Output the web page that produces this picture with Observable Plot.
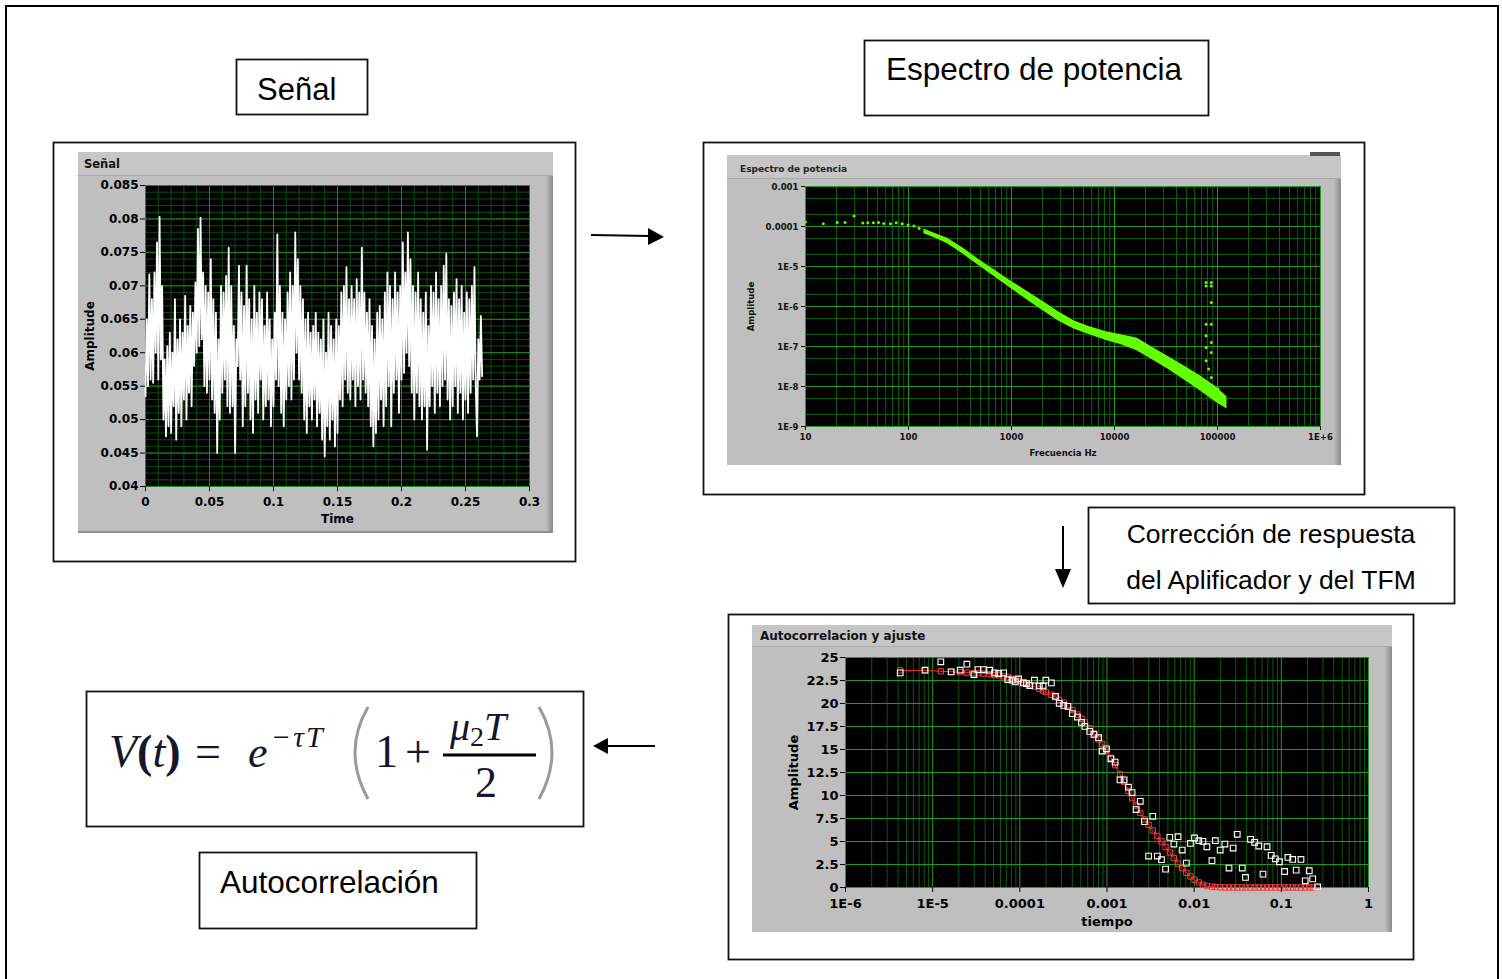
<!DOCTYPE html>
<html><head><meta charset="utf-8">
<script src="https://cdn.jsdelivr.net/npm/d3@7"></script>
<script src="https://cdn.jsdelivr.net/npm/@observablehq/plot@0.6"></script>
<style>
html,body{margin:0;padding:0;background:#fff;}
body{width:1502px;height:979px;position:relative;overflow:hidden;font-family:"Liberation Sans",Arial,sans-serif;}
#bg{position:absolute;left:0;top:0;}
.chart{position:absolute;}
.chart svg{display:block;overflow:visible;}
</style>
</head><body>
<svg id="bg" width="1502" height="979" xmlns="http://www.w3.org/2000/svg">
  <path d="M6,979 V6 H1498 V979" fill="none" stroke="#000" stroke-width="2"/>
  <!-- label boxes -->
  <rect x="236.5" y="59.5" width="131" height="55" fill="#fff" stroke="#111" stroke-width="1.8"/>
  <text x="257" y="100" font-size="31" font-family="Liberation Sans, Arial">Señal</text>
  <rect x="864.5" y="40.5" width="344" height="75" fill="#fff" stroke="#111" stroke-width="1.8"/>
  <text x="886" y="80" font-size="31.5" font-family="Liberation Sans, Arial">Espectro de potencia</text>
  <rect x="1088.5" y="507.5" width="366" height="96" fill="#fff" stroke="#111" stroke-width="1.8"/>
  <text x="1271" y="543" font-size="26.5" text-anchor="middle" font-family="Liberation Sans, Arial">Corrección de respuesta</text>
  <text x="1271" y="589" font-size="26.5" text-anchor="middle" font-family="Liberation Sans, Arial">del Aplificador y del TFM</text>
  <rect x="199.5" y="852.5" width="277" height="76" fill="#fff" stroke="#111" stroke-width="1.8"/>
  <text x="220" y="893" font-size="31.5" font-family="Liberation Sans, Arial">Autocorrelación</text>
  <!-- formula -->
  <rect x="86.5" y="691.5" width="497" height="135" fill="#fff" stroke="#111" stroke-width="1.8"/>
  <g font-family="Liberation Serif, Times New Roman, serif" fill="#15152e">
    <text x="109" y="767" font-size="46"><tspan font-style="italic">V</tspan><tspan font-weight="bold">(</tspan><tspan font-style="italic">t</tspan><tspan font-weight="bold">)</tspan></text>
    <text x="195" y="767" font-size="46">=</text>
    <text x="248" y="767" font-size="44" font-style="italic">e</text>
    <text x="271" y="747" font-size="30" font-style="italic" letter-spacing="2">−τT</text>
    <text x="375" y="767" font-size="46">1</text>
    <text x="405" y="767" font-size="46">+</text>
    <text x="450" y="740" font-size="40" font-style="italic">μ<tspan font-size="28" font-style="normal" dy="6">2</tspan><tspan dy="-6">T</tspan></text>
    <text x="475" y="797" font-size="44">2</text>
  </g>
  <line x1="443" y1="755" x2="536" y2="755" stroke="#000" stroke-width="3"/>
  <path d="M368,707 Q342,752 368,799" fill="none" stroke="#9a9a9a" stroke-width="3"/>
  <path d="M539,707 Q565,752 539,799" fill="none" stroke="#9a9a9a" stroke-width="3"/>
  <!-- arrows -->
  <line x1="591" y1="235" x2="650" y2="236" stroke="#000" stroke-width="2"/>
  <polygon points="648,228 664,237 648,245" fill="#000"/>
  <line x1="1063" y1="526" x2="1063" y2="572" stroke="#000" stroke-width="2"/>
  <polygon points="1055,569 1071,569 1063,588" fill="#000"/>
  <line x1="655" y1="746" x2="605" y2="746" stroke="#000" stroke-width="2"/>
  <polygon points="608,738 593,746 608,754" fill="#000"/>
  <!-- chart outer boxes -->
  <rect x="53.5" y="142.5" width="522" height="419" fill="#fff" stroke="#111" stroke-width="1.8"/>
  <rect x="703.5" y="142.5" width="661" height="352" fill="#fff" stroke="#111" stroke-width="1.8"/>
  <rect x="728.5" y="614.5" width="685" height="345" fill="#fff" stroke="#111" stroke-width="1.8"/>
  <defs>
    <linearGradient id="bev" x1="0" x2="1" y1="0" y2="0">
      <stop offset="0" stop-color="#bdbdbd"/><stop offset="1" stop-color="#8a8a8a"/>
    </linearGradient>
  </defs>
  <!-- Señal panel -->
  <rect x="78" y="152" width="475" height="381" fill="#bfbfbf"/>
  <rect x="78" y="152" width="475" height="23" fill="#c6c6c6"/>
  <line x1="78" y1="175.5" x2="553" y2="175.5" stroke="#a9a9a9"/>
  <rect x="546" y="176" width="7" height="357" fill="url(#bev)"/>
  <line x1="78" y1="532" x2="553" y2="532" stroke="#8f8f8f" stroke-width="2"/>
  <text x="84" y="168" font-size="11.5" font-weight="bold" font-family="DejaVu Sans, sans-serif" fill="#111">Señal</text>
  <!-- Espectro panel -->
  <rect x="727" y="155" width="614" height="310" fill="#bfbfbf"/>
  <rect x="727" y="155" width="614" height="23" fill="#c6c6c6"/>
  <line x1="727" y1="178.5" x2="1341" y2="178.5" stroke="#a9a9a9"/>
  <rect x="1334" y="179" width="7" height="286" fill="url(#bev)"/>
  <rect x="1310" y="152" width="30" height="4" fill="#555"/>
  <text x="740" y="172" font-size="9" font-weight="bold" font-family="DejaVu Sans, sans-serif" fill="#222">Espectro de potencia</text>
  <!-- Autocorr panel -->
  <rect x="752" y="625" width="640" height="307" fill="#bfbfbf"/>
  <rect x="752" y="625" width="640" height="21" fill="#c6c6c6"/>
  <line x1="752" y1="646.5" x2="1392" y2="646.5" stroke="#a9a9a9"/>
  <rect x="1385" y="647" width="7" height="285" fill="url(#bev)"/>
  <text x="760" y="640" font-size="12" font-weight="bold" font-family="DejaVu Sans, sans-serif" fill="#111">Autocorrelacion y ajuste</text>
</svg>
<div id="senal" class="chart" style="left:78px;top:175px;"></div>
<div id="espectro" class="chart" style="left:727px;top:178px;"></div>
<div id="autocorr" class="chart" style="left:752px;top:646px;"></div>
<script>
// ---------- Señal (signal) ----------
const signalDt = 0.001;
const signalAmp = [
0.0535,0.0650,0.0550,0.0717,0.0560,0.0680,0.0555,0.0720,0.0600,0.0765,
0.0560,0.0803,0.0590,0.0700,0.0500,0.0590,0.0475,0.0610,0.0490,0.0630,
0.0480,0.0600,0.0520,0.0680,0.0470,0.0620,0.0510,0.0650,0.0490,0.0630,
0.0530,0.0685,0.0500,0.0640,0.0540,0.0670,0.0520,0.0660,0.0580,0.0705,
0.0600,0.0785,0.0610,0.0802,0.0620,0.0720,0.0550,0.0700,0.0540,0.0690,
0.0560,0.0740,0.0530,0.0680,0.0510,0.0660,0.0450,0.0620,0.0500,0.0700,
0.0540,0.0690,0.0560,0.0715,0.0520,0.0757,0.0510,0.0700,0.0520,0.0640,
0.0450,0.0620,0.0580,0.0730,0.0560,0.0690,0.0490,0.0670,0.0520,0.0730,
0.0540,0.0680,0.0500,0.0650,0.0480,0.0700,0.0530,0.0660,0.0510,0.0690,
0.0560,0.0680,0.0500,0.0640,0.0520,0.0690,0.0530,0.0650,0.0490,0.0620,
0.0520,0.0660,0.0560,0.0777,0.0550,0.0700,0.0510,0.0660,0.0490,0.0650,
0.0530,0.0690,0.0550,0.0720,0.0530,0.0700,0.0560,0.0780,0.0600,0.0740,
0.0560,0.0700,0.0540,0.0680,0.0500,0.0650,0.0480,0.0660,0.0520,0.0630,
0.0500,0.0640,0.0530,0.0660,0.0490,0.0630,0.0510,0.0620,0.0470,0.0650,
0.0445,0.0600,0.0490,0.0660,0.0470,0.0640,0.0500,0.0620,0.0460,0.0650,
0.0480,0.0640,0.0530,0.0690,0.0520,0.0700,0.0560,0.0728,0.0540,0.0680,
0.0530,0.0700,0.0560,0.0680,0.0520,0.0710,0.0550,0.0690,0.0530,0.0757,
0.0560,0.0690,0.0540,0.0660,0.0520,0.0680,0.0490,0.0640,0.0460,0.0620,
0.0480,0.0660,0.0500,0.0670,0.0530,0.0650,0.0490,0.0690,0.0520,0.0720,
0.0550,0.0700,0.0490,0.0680,0.0540,0.0720,0.0560,0.0690,0.0510,0.0700,
0.0560,0.0765,0.0570,0.0720,0.0600,0.0780,0.0580,0.0740,0.0540,0.0700,
0.0500,0.0690,0.0540,0.0720,0.0520,0.0680,0.0500,0.0660,0.0520,0.0690,
0.0455,0.0640,0.0520,0.0700,0.0550,0.0690,0.0510,0.0720,0.0540,0.0680,
0.0520,0.0700,0.0550,0.0730,0.0560,0.0748,0.0530,0.0680,0.0500,0.0670,
0.0520,0.0690,0.0550,0.0710,0.0510,0.0680,0.0540,0.0700,0.0500,0.0660,
0.0530,0.0690,0.0510,0.0680,0.0540,0.0700,0.0560,0.0728,0.0550,0.0475,
0.0620,0.0560,0.0655,0.0565
];
const senalTicksX = [0, 0.05, 0.1, 0.15, 0.2, 0.25, 0.3];
const senalTicksY = [0.04, 0.045, 0.05, 0.055, 0.06, 0.065, 0.07, 0.075, 0.08, 0.085];

// ---------- Espectro de potencia ----------
const espDotF = [10, 14.9, 20.3, 24.2, 29.6, 36, 40.3, 45.6, 51.2, 57.4, 66.7, 76, 86.8, 99, 113, 127];
const espDotA = [1.29e-4, 1.17e-4, 1.26e-4, 1.26e-4, 1.82e-4, 1.22e-4, 1.24e-4, 1.24e-4, 1.26e-4, 1.19e-4, 1.17e-4, 1.24e-4, 1.17e-4, 1.09e-4, 1.03e-4, 8.97e-5];
const espBandF  = [141, 184, 239, 341, 485, 690, 982, 1400, 1990, 2830, 4030, 5740, 8170, 11600, 16500, 23500, 33500, 47600, 67800, 96600, 123600];
const espBandHi = [8.63e-5, 6.6e-5, 5.05e-5, 2.84e-5, 1.48e-5, 8.04e-6, 4.36e-6, 2.45e-6, 1.38e-6, 7.48e-7, 4.38e-7, 3.1e-7, 2.38e-7, 1.96e-7, 1.62e-7, 9.48e-8, 5.55e-8, 3.24e-8, 1.86e-8, 9.9e-9, 5.57e-9];
const espBandLo = [6.6e-5, 5.05e-5, 3.72e-5, 2.01e-5, 1.05e-5, 5.48e-6, 2.86e-6, 1.49e-6, 8.09e-7, 4.38e-7, 2.72e-7, 1.96e-7, 1.44e-7, 1.1e-7, 7.83e-8, 4.58e-8, 2.68e-8, 1.45e-8, 7.87e-9, 4.03e-9, 2.75e-9];
const espSpikeF = [77400, 86900, 77400, 86900, 86900, 77400, 86900, 77400, 86900, 77400, 86900, 77400, 82000, 86900, 77400, 101000];
const espSpikeA = [3.96e-6, 3.96e-6, 3.27e-6, 3.27e-6, 1.26e-6, 3.62e-7, 3.62e-7, 1.85e-7, 1.26e-7, 9.48e-8, 7.11e-8, 4.41e-8, 2.73e-8, 1.69e-8, 1.15e-8, 8.67e-9];
const espTicksX = [10, 100, 1000, 10000, 100000, 1e6];
const espLabelsX = ["10", "100", "1000", "10000", "100000", "1E+6"];
const espTicksY = [1e-9, 1e-8, 1e-7, 1e-6, 1e-5, 1e-4, 1e-3];
const espLabelsY = ["1E-9", "1E-8", "1E-7", "1E-6", "1E-5", "0.0001", "0.001"];

// ---------- Autocorrelacion y ajuste ----------
const acT = [4.24e-6, 8.17e-6, 1.24e-5, 1.63e-5, 2.07e-5, 2.47e-5, 2.97e-5, 3.31e-5, 3.82e-5, 4.5e-5,
 5.13e-5, 5.73e-5, 6.53e-5, 7.28e-5, 8.13e-5, 8.87e-5, 9.68e-5, 1.10e-4, 1.19e-4, 1.30e-4,
 1.47e-4, 1.67e-4, 1.85e-4, 1.99e-4, 2.30e-4, 2.56e-4, 2.83e-4, 3.19e-4, 3.56e-4, 4.01e-4,
 4.57e-4, 5.1e-4, 5.57e-4, 6.35e-4, 7.08e-4, 8.0e-4, 8.81e-4, 9.84e-4, 1.11e-3, 1.24e-3,
 1.41e-3, 1.57e-3, 1.76e-3, 1.94e-3, 2.16e-3, 2.41e-3, 2.69e-3, 3.0e-3, 3.35e-3, 3.78e-3,
 4.22e-3, 4.70e-3, 5.25e-3, 5.85e-3, 6.53e-3, 7.28e-3, 8.13e-3, 9.06e-3, 1.01e-2, 1.13e-2,
 1.26e-2, 1.40e-2, 1.60e-2, 1.75e-2, 1.99e-2, 2.25e-2, 2.51e-2, 2.80e-2, 3.12e-2, 3.56e-2,
 3.88e-2, 4.43e-2, 4.94e-2, 5.51e-2, 6.15e-2, 6.86e-2, 7.65e-2, 8.53e-2, 9.52e-2, 0.109,
 0.119, 0.135, 0.148, 0.168, 0.188, 0.209, 0.229, 0.261];
const acData = [23.33, 23.62, 24.53, 23.44, 23.62, 24.27, 23.15, 23.69, 23.69, 23.62,
 23.33, 23.26, 23.33, 22.6, 22.53, 22.35, 22.67, 22.24, 22.17, 21.95,
 22.53, 21.91, 21.91, 22.53, 22.24, 20.78, 20.02, 19.8, 19.69, 18.9,
 18.53, 17.95, 17.51, 16.97, 16.64, 16.28, 14.83, 15.08, 13.99, 13.63,
 11.7, 11.7, 10.9, 10.32, 8.47, 9.37, 7.16, 3.42, 7.74, 3.42,
 3.02, 2.0, 5.45, 4.72, 5.52, 4.07, 2.65, 4.8, 5.38, 5.09,
 5.01, 4.43, 2.91, 5.09, 4.07, 4.72, 2.11, 4.29, 5.78, 2.11,
 1.09, 5.23, 4.91, 4.51, 1.45, 4.43, 3.49, 3.12, 2.8, 1.74,
 3.27, 3.05, 1.89, 3.05, 0.73, 1.82, 0.94, 0.07];
const acFit = [23.6, 23.6, 23.5, 23.45, 23.4, 23.35, 23.3, 23.3, 23.25, 23.2,
 23.1, 23.05, 22.95, 22.85, 22.7, 22.6, 22.45, 22.3, 22.2, 22.0,
 21.85, 21.6, 21.4, 21.25, 20.95, 20.7, 20.4, 20.1, 19.7, 19.3,
 18.8, 18.35, 17.95, 17.3, 16.75, 16.1, 15.6, 14.9, 14.1, 13.3,
 12.3, 11.5, 10.5, 9.7, 8.9, 8.1, 7.4, 6.8, 6.2, 5.6,
 5.0, 4.4, 3.8, 3.2, 2.6, 2.1, 1.6, 1.2, 0.85, 0.55,
 0.3, 0.15, 0.08, 0.05, 0.02, 0, 0, 0, 0, 0,
 0, 0, 0, 0, 0, 0, 0, 0, 0, 0,
 0, 0, 0, 0, 0, 0, 0, 0];
const acTicksX = [1e-6, 1e-5, 1e-4, 1e-3, 1e-2, 0.1, 1];
const acLabelsX = ["1E-6", "1E-5", "0.0001", "0.001", "0.01", "0.1", "1"];
const acTicksY = [0, 2.5, 5, 7.5, 10, 12.5, 15, 17.5, 20, 22.5, 25];

// ---------- helpers ----------
const numFmt = d => String(+d.toFixed(4));
const labelFor = (ticks, labels) => d => labels[ticks.findIndex(t => Math.abs(t - d) <= Math.abs(d) * 1e-9)];
const logMinor = (lo, hi) => { const out = []; for (let p = lo; p < hi; p *= 10) for (let m = 2; m <= 9; m++) out.push(p * m); return out; };
const logMinorSome = (lo, hi, ms) => { const out = []; for (let p = lo; p < hi; p *= 10) for (const m of ms) out.push(p * m); return out; };

// ---------- Señal chart ----------
const senalPlot = Plot.plot({
  width: 475, height: 358,
  marginLeft: 67, marginRight: 24, marginTop: 10, marginBottom: 47,
  style: {background: "transparent", fontFamily: "'DejaVu Sans', sans-serif", fontSize: "12px", fontWeight: "bold", color: "#000", overflow: "visible"},
  x: {type: "linear", domain: [0, 0.3]},
  y: {type: "linear", domain: [0.04, 0.085]},
  marks: [
    Plot.frame({fill: "#000"}),
    Plot.ruleX(d3.range(0, 0.3001, 0.01), {stroke: "#0c4d0c", strokeWidth: 1}),
    Plot.ruleY(d3.range(0.04, 0.08501, 0.001), {stroke: "#0c4d0c", strokeWidth: 1}),
    Plot.ruleX(senalTicksX, {stroke: "#228a22", strokeWidth: 1}),
    Plot.ruleY(senalTicksY, {stroke: "#228a22", strokeWidth: 1}),
    Plot.line(signalAmp, {x: (d, i) => i * signalDt, y: d => d, stroke: "#fff", strokeWidth: 1.8}),
    Plot.axisX({ticks: senalTicksX, tickFormat: numFmt, tickSize: 5, tickPadding: 6, label: "Time", labelAnchor: "center", labelArrow: "none", labelOffset: 36}),
    Plot.axisY({ticks: senalTicksY, tickFormat: numFmt, tickSize: 5, tickPadding: 2, label: "Amplitude", labelAnchor: "center", labelArrow: "none", labelOffset: 60})
  ]
});
document.getElementById("senal").appendChild(senalPlot);

// ---------- Espectro chart ----------
const espIdxDots = espDotF.map((_, i) => i);
const espIdxBand = espBandF.map((_, i) => i);
const espIdxSpike = espSpikeF.map((_, i) => i);
const espGreen = "#62ff00";
const espPlot = Plot.plot({
  width: 614, height: 287,
  marginLeft: 78, marginRight: 21, marginTop: 8, marginBottom: 39,
  style: {background: "transparent", fontFamily: "'DejaVu Sans Condensed', 'DejaVu Sans', sans-serif", fontSize: "9.5px", fontWeight: "bold", color: "#111", overflow: "visible"},
  x: {type: "log", domain: [10, 1e6]},
  y: {type: "log", domain: [1e-9, 1e-3]},
  marks: [
    Plot.frame({fill: "#000"}),
    Plot.ruleX(logMinor(10, 1e6), {stroke: "#0d5f0d", strokeWidth: 1}),
    Plot.ruleY(logMinorSome(1e-9, 1e-3, [2, 5]), {stroke: "#0d5f0d", strokeWidth: 1}),
    Plot.ruleX(espTicksX, {stroke: "#1f9a1f", strokeWidth: 1}),
    Plot.ruleY(espTicksY, {stroke: "#1f9a1f", strokeWidth: 1}),
    Plot.areaY(espIdxBand, {x: i => espBandF[i], y1: i => espBandLo[i], y2: i => espBandHi[i], fill: espGreen, curve: "linear"}),
    Plot.dot(espIdxDots, {x: i => espDotF[i], y: i => espDotA[i], fill: espGreen, r: 1.5}),
    Plot.dot(espIdxSpike, {x: i => espSpikeF[i], y: i => espSpikeA[i], fill: espGreen, r: 1.5}),
    Plot.axisX({ticks: espTicksX, tickFormat: labelFor(espTicksX, espLabelsX), tickSize: 4, tickPadding: 3, label: "Frecuencia Hz", labelAnchor: "center", labelArrow: "none", labelOffset: 29}),
    Plot.axisY({ticks: espTicksY, tickFormat: labelFor(espTicksY, espLabelsY), tickSize: 4, tickPadding: 3, label: "Amplitude", labelAnchor: "center", labelArrow: "none", labelOffset: 58})
  ]
});
document.getElementById("espectro").appendChild(espPlot);

// ---------- Autocorrelacion chart ----------
const acIdx = acT.map((_, i) => i);
const acPlot = Plot.plot({
  width: 640, height: 286,
  marginLeft: 93, marginRight: 24, marginTop: 11, marginBottom: 45,
  style: {background: "transparent", fontFamily: "'DejaVu Sans', sans-serif", fontSize: "13px", fontWeight: "bold", color: "#000", overflow: "visible"},
  x: {type: "log", domain: [1e-6, 1]},
  y: {type: "linear", domain: [0, 25]},
  marks: [
    Plot.frame({fill: "#000"}),
    Plot.ruleX(logMinor(1e-6, 1), {stroke: "#0d5a0d", strokeWidth: 1}),
    Plot.ruleX(acTicksX, {stroke: "#1f9a1f", strokeWidth: 1}),
    Plot.ruleY(acTicksY, {stroke: "#1f9a1f", strokeWidth: 1}),
    Plot.line(acIdx, {x: i => acT[i], y: i => acFit[i], stroke: "#ff2a2a", strokeWidth: 1}),
    Plot.dot(acIdx, {x: i => acT[i], y: i => acFit[i], symbol: "square", r: 3, stroke: "#ff3a3a", fill: "none", strokeWidth: 1}),
    Plot.dot(acIdx, {x: i => acT[i], y: i => acData[i], symbol: "square", r: 3.2, stroke: "#ffffff", fill: "none", strokeWidth: 1.1}),
    Plot.axisX({ticks: acTicksX, tickFormat: labelFor(acTicksX, acLabelsX), tickSize: 5, tickPadding: 6, label: "tiempo", labelAnchor: "center", labelArrow: "none", labelOffset: 38}),
    Plot.axisY({ticks: acTicksY, tickFormat: numFmt, tickSize: 5, tickPadding: 2, label: "Amplitude", labelAnchor: "center", labelArrow: "none", labelOffset: 57})
  ]
});
document.getElementById("autocorr").appendChild(acPlot);
</script>
</body></html>
